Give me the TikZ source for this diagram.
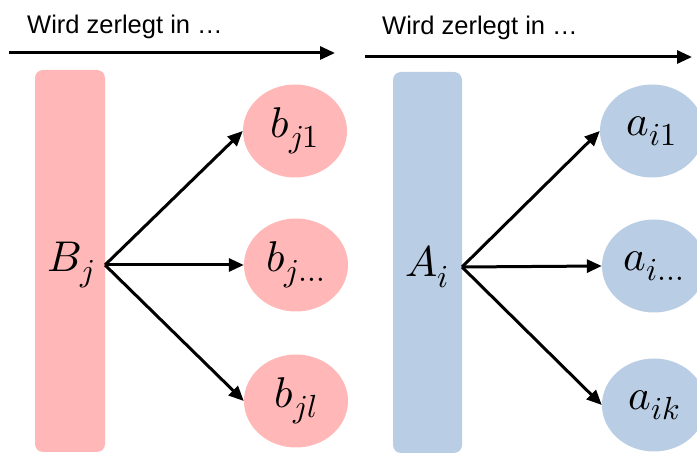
\documentclass[tikz,border=0pt]{standalone}
\usepackage{fontspec}
\usepackage{unicode-math}
\setmathfont{Latin Modern Math}
\setsansfont{Liberation Sans}
\DeclareMathSizes{43}{43}{32}{25}
\usetikzlibrary{arrows.meta,shapes.geometric}
\definecolor{bpink}{RGB}{255,183,183}
\definecolor{ablue}{RGB}{185,205,228}
\tikzset{
  x=1pt, y=-1pt,
  bar/.style={fill=#1, draw=none, rounded corners=8pt},
  part/.style={ellipse, fill=#1, draw=none, minimum width=104pt, minimum height=93pt, inner sep=0pt,
               font=\fontsize{43}{50}\selectfont},
  link/.style={line width=3pt, -{Triangle[length=15pt,width=13pt]}},
  heading/.style={font=\sffamily\fontsize{25.5}{30}\selectfont, anchor=base west, inner sep=0pt},
  bigsym/.style={font=\fontsize{43}{50}\selectfont}
}
\begin{document}
\begin{tikzpicture}
\useasboundingbox (0,0) rectangle (697,454);

% headings with direction arrows
\node[heading] (h1) at (27,34) {Wird zerlegt in …};
\node[heading] (h2) at (382,35) {Wird zerlegt in …};
\coordinate (l1s) at (9,53);  \coordinate (l1e) at (335,53);
\coordinate (l2s) at (365,57); \coordinate (l2e) at (692,57);
\draw[line width=3pt, -{Triangle[length=15pt,width=13pt]}] (l1s) -- (l1e);
\draw[line width=3pt, -{Triangle[length=15pt,width=13pt]}] (l2s) -- (l2e);

% left group: B_j
\fill[bar=bpink] (35,70) rectangle (105,452);
\node[bigsym] (B) at (71,265) {$B_j$};
\coordinate (Bo) at (105,265);
\node[part=bpink] (b1) at (295,131) {$b_{j1}$};
\node[part=bpink] (b2) at (296,265) {$b_{j\ldots}$};
\node[part=bpink] (b3) at (296,401) {$b_{jl}$};
\draw[link] (Bo) -- (b1.west);
\draw[link] (Bo) -- (b2.west);
\draw[link] (Bo) -- (b3.west);

% right group: A_i
\fill[bar=ablue] (393,72) rectangle (462,453);
\node[bigsym] (A) at (427,267) {$A_i$};
\coordinate (Ao) at (462,267);
\node[part=ablue] (a1) at (652,131) {$a_{i1}$};
\node[part=ablue] (a2) at (654,266) {$a_{i\ldots}$};
\node[part=ablue] (a3) at (654,405) {$a_{ik}$};
\draw[link] (Ao) -- (a1.west);
\draw[link] (Ao) -- (a2.west);
\draw[link] (Ao) -- (a3.west);
\end{tikzpicture}
\end{document}
